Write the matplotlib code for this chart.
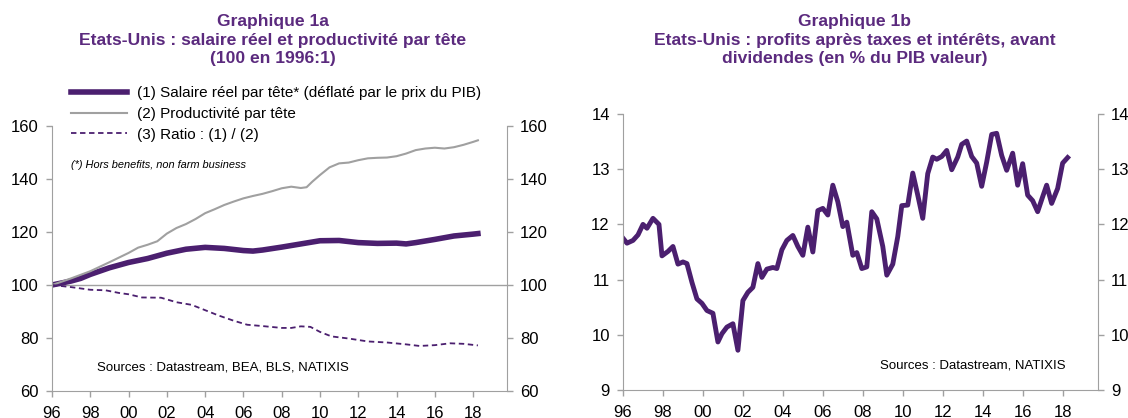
import matplotlib.pyplot as plt

plt.rcParams['font.family'] = ['Liberation Sans', 'DejaVu Sans']

# --- Graphique 1a : salaire reel, productivite, ratio (100 en 1996:1)
sal_x = [1996.0, 1997.0, 1997.5, 1998.0, 1999.0, 2000.0, 2001.0, 2002.0, 2003.0, 2004.0,
         2005.0, 2006.0, 2006.5, 2007.0, 2008.0, 2009.0, 2010.0, 2011.0, 2012.0, 2013.0,
         2014.0, 2014.5, 2015.0, 2016.0, 2017.0, 2018.0, 2018.25]
sal_y = [100, 101.5, 102.5, 104, 106.5, 108.5, 110, 112, 113.5, 114.2,
         113.8, 113, 112.8, 113.2, 114.3, 115.5, 116.7, 116.8, 116, 115.7,
         115.8, 115.5, 116, 117.2, 118.5, 119.2, 119.4]

prod_x = [1996.0, 1997.0, 1998.0, 1999.0, 2000.0, 2000.5, 2001.0, 2001.5, 2002.0, 2002.5,
          2003.0, 2003.5, 2004.0, 2004.5, 2005.0, 2005.5, 2006.0, 2006.5, 2007.0, 2007.5,
          2008.0, 2008.5, 2009.0, 2009.3, 2009.6, 2010.0, 2010.5, 2011.0, 2011.5, 2012.0,
          2012.5, 2013.0, 2013.5, 2014.0, 2014.5, 2015.0, 2015.5, 2016.0, 2016.5, 2017.0,
          2017.5, 2018.0, 2018.25]
prod_y = [100, 102.5, 105.2, 108.6, 112.1, 114.1, 115.2, 116.5, 119.4, 121.5,
          123, 124.9, 127.1, 128.6, 130.2, 131.5, 132.7, 133.6, 134.4, 135.4,
          136.5, 137.1, 136.6, 136.9, 139, 141.5, 144.4, 145.9, 146.2, 147.1,
          147.8, 148, 148.1, 148.6, 149.6, 150.9, 151.5, 151.8, 151.5, 152,
          152.9, 154, 154.6]

ratio_x = [1996.0, 1997.0, 1998.0, 1998.8, 1999.5, 2000.0, 2000.7, 2001.7, 2002.5, 2003.3,
           2004.0, 2004.7, 2005.5, 2006.2, 2007.0, 2008.0, 2008.5, 2009.0, 2009.5, 2010.0,
           2010.6, 2011.5, 2012.5, 2013.5, 2014.5, 2015.2, 2016.0, 2016.8, 2017.5, 2018.25]
ratio_y = [100, 99.2, 98.2, 98, 97, 96.5, 95.3, 95.2, 93.5, 92.5,
           90.5, 88.5, 86.5, 85, 84.5, 83.8, 83.8, 84.4, 84.2, 82.3,
           80.6, 79.8, 78.7, 78.3, 77.6, 77, 77.3, 78, 77.8, 77.2]

# --- Graphique 1b : profits apres taxes et interets (% du PIB)
prof_x = [1996.0, 1996.2, 1996.5, 1996.75, 1997.0, 1997.2, 1997.5, 1997.8, 1997.95, 1998.25,
          1998.5, 1998.75, 1999.0, 1999.2, 1999.45, 1999.7, 1999.95, 2000.2, 2000.5, 2000.75,
          2000.95, 2001.2, 2001.5, 2001.75, 2002.0, 2002.25, 2002.5, 2002.75, 2002.95, 2003.2,
          2003.5, 2003.7, 2003.95, 2004.2, 2004.5, 2004.75, 2005.0, 2005.25, 2005.5, 2005.75,
          2006.0, 2006.25, 2006.5, 2006.75, 2007.0, 2007.2, 2007.5, 2007.7, 2007.95, 2008.2,
          2008.45, 2008.7, 2009.0, 2009.2, 2009.5, 2009.75, 2009.95, 2010.25, 2010.5, 2010.75,
          2011.0, 2011.25, 2011.5, 2011.7, 2011.95, 2012.2, 2012.45, 2012.75, 2012.95, 2013.2,
          2013.45, 2013.7, 2013.95, 2014.2, 2014.45, 2014.7, 2014.95, 2015.2, 2015.5, 2015.75,
          2016.0, 2016.25, 2016.5, 2016.75, 2017.0, 2017.2, 2017.45, 2017.75, 2018.0, 2018.25]
prof_y = [11.75, 11.66, 11.71, 11.81, 12.0, 11.93, 12.11, 12.0, 11.43, 11.51,
          11.6, 11.28, 11.32, 11.29, 10.95, 10.65, 10.57, 10.44, 10.39, 9.87,
          10.02, 10.14, 10.2, 9.72, 10.62, 10.77, 10.86, 11.29, 11.04, 11.19,
          11.22, 11.2, 11.54, 11.71, 11.8, 11.6, 11.44, 11.95, 11.5, 12.25,
          12.29, 12.17, 12.71, 12.41, 11.96, 12.04, 11.44, 11.49, 11.2, 11.23,
          12.23, 12.1, 11.6, 11.08, 11.28, 11.78, 12.34, 12.35, 12.93, 12.53,
          12.11, 12.92, 13.22, 13.18, 13.23, 13.34, 12.99, 13.22, 13.45, 13.51,
          13.23, 13.11, 12.69, 13.13, 13.63, 13.65, 13.25, 12.98, 13.29, 12.71,
          13.1, 12.53, 12.43, 12.23, 12.5, 12.71, 12.38, 12.65, 13.11, 13.21]

year_ticks = list(range(1996, 2019, 2))
year_labels = ['%02d' % (y % 100) for y in year_ticks]

purple = '#4B1F6F'
title_purple = '#5B2A7E'
grey = '#A0A0A0'
W, H = 1128, 418

fig = plt.figure(figsize=(W / 100, H / 100), dpi=100)


def px_axes(l, t, r, b):
    return fig.add_axes([l / W, 1 - b / H, (r - l) / W, (b - t) / H])


def style(ax):
    for s in ['left', 'right', 'bottom']:
        ax.spines[s].set_color(grey)
    ax.spines['top'].set_visible(False)
    ax.tick_params(axis='both', direction='out', length=4, color=grey, labelsize=12,
                   labelcolor='black', width=1)
    ax.tick_params(axis='y', right=True, labelright=True, pad=5.5)
    ax.tick_params(axis='x', pad=6.5)
    ax.set_xticks(year_ticks)
    ax.set_xticklabels(year_labels)
    ax.set_xlim(1996, 2019.77)


ax1 = px_axes(52, 126, 507, 391)
ax1.plot(sal_x, sal_y, color=purple, lw=4,
         label="(1) Salaire réel par tête* (déflaté par le prix du PIB)")
ax1.plot(prod_x, prod_y, color=grey, lw=1.5, label="(2) Productivité par tête")
ax1.plot(ratio_x, ratio_y, color=purple, lw=1.3, ls=(0, (3, 2)), label="(3) Ratio : (1) / (2)")
ax1.axhline(100, color=grey, lw=1, zorder=0)
ax1.set_ylim(60, 160)
ax1.set_yticks(range(60, 161, 20))
style(ax1)
ax1.legend(loc='upper left', bbox_to_anchor=(71 / W, 1 - 86 / H), bbox_transform=fig.transFigure,
           frameon=False, fontsize=11, handlelength=3.66, handletextpad=0.65,
           labelspacing=0.45, borderaxespad=0, borderpad=0)
fig.text(71 / W, 1 - 165 / H, "(*) Hors benefits, non farm business", fontsize=7.9, style='italic',
         va='center', ha='left')
fig.text(97 / W, 1 - 367 / H, "Sources : Datastream, BEA, BLS, NATIXIS", fontsize=9.5,
         va='center', ha='left')

ax2 = px_axes(623, 114, 1098, 390)
ax2.plot(prof_x, prof_y, color=purple, lw=3.5)
ax2.set_ylim(9, 14)
ax2.set_yticks(range(9, 15))
style(ax2)
fig.text(1066 / W, 1 - 366 / H, "Sources : Datastream, NATIXIS", fontsize=9.5,
         va='center', ha='right')

fig.text(273 / W, 1 - 14 / H,
         "Graphique 1a\nEtats-Unis : salaire réel et productivité par tête\n(100 en 1996:1)",
         ha='center', va='top', fontsize=12.6, fontweight='bold', color=title_purple,
         linespacing=1.3)
fig.text(855 / W, 1 - 14 / H,
         "Graphique 1b\nEtats-Unis : profits après taxes et intérêts, avant\ndividendes (en % du PIB valeur)",
         ha='center', va='top', fontsize=12.6, fontweight='bold', color=title_purple,
         linespacing=1.3)

fig.savefig('out.png', dpi=100)
